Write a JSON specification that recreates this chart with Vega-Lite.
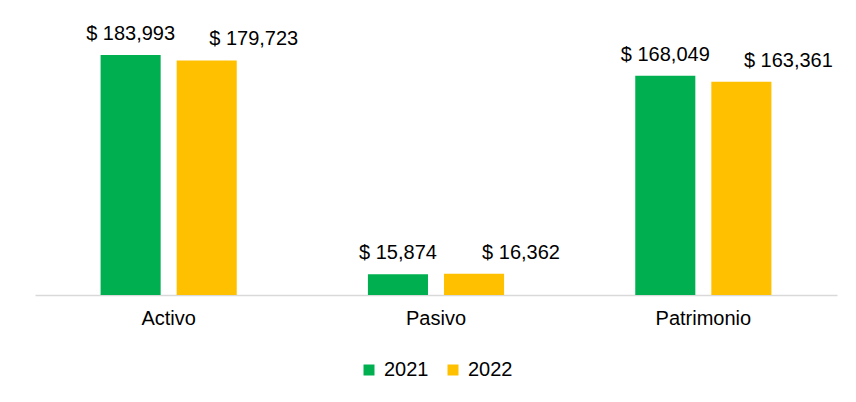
{
  "$schema": "https://vega.github.io/schema/vega-lite/v6.json",
  "width": 802,
  "height": 261,
  "autosize": {"type": "none"},
  "padding": {"left": 35, "top": 34, "right": 19, "bottom": 107},
  "background": "white",
  "config": {"view": {"stroke": null}, "font": "Liberation Sans", "legend": {"layout": {"bottom": {"anchor": "middle"}}}},
  "data": {
    "values": [
      {"cat": "Activo", "year": "2021", "value": 183993},
      {"cat": "Activo", "year": "2022", "value": 179723},
      {"cat": "Pasivo", "year": "2021", "value": 15874},
      {"cat": "Pasivo", "year": "2022", "value": 16362},
      {"cat": "Patrimonio", "year": "2021", "value": 168049},
      {"cat": "Patrimonio", "year": "2022", "value": 163361}
    ]
  },
  "transform": [{"calculate": "'$ ' + format(datum.value, ',')", "as": "label"}],
  "encoding": {
    "x": {
      "field": "cat", "type": "nominal", "sort": ["Activo", "Pasivo", "Patrimonio"],
      "scale": {"paddingInner": 0, "paddingOuter": 0},
      "axis": {"title": null, "labelAngle": 0, "domainColor": "#d9d9d9", "domainWidth": 1.5, "ticks": false,
               "labelFontSize": 20, "labelFont": "Liberation Sans", "labelColor": "#000000", "labelPadding": 13}
    },
    "xOffset": {"field": "year", "type": "nominal", "scale": {"paddingInner": 0.2105, "paddingOuter": 0.862}},
    "y": {"field": "value", "type": "quantitative", "scale": {"domain": [0, 200000]}, "axis": null}
  },
  "layer": [
    {
      "mark": {"type": "bar"},
      "encoding": {
        "color": {
          "field": "year", "type": "nominal",
          "scale": {"domain": ["2021", "2022"], "range": ["#00B050", "#FFC000"]},
          "legend": {"title": null, "orient": "bottom", "direction": "horizontal", "symbolType": "square",
                     "symbolSize": 121, "symbolStrokeWidth": 0, "labelFontSize": 20, "labelFont": "Liberation Sans",
                     "labelColor": "#000000", "labelOffset": 5, "columnPadding": 14, "offset": 32}
        }
      }
    },
    {
      "transform": [{"filter": "datum.year == '2021'"}],
      "mark": {"type": "text", "baseline": "alphabetic", "dy": -15, "fontSize": 20, "font": "Liberation Sans", "color": "#000000"},
      "encoding": {"text": {"field": "label"}}
    },
    {
      "transform": [{"filter": "datum.year == '2022'"}],
      "mark": {"type": "text", "baseline": "alphabetic", "dy": -15, "dx": 47, "fontSize": 20, "font": "Liberation Sans", "color": "#000000"},
      "encoding": {"text": {"field": "label"}}
    }
  ]
}
